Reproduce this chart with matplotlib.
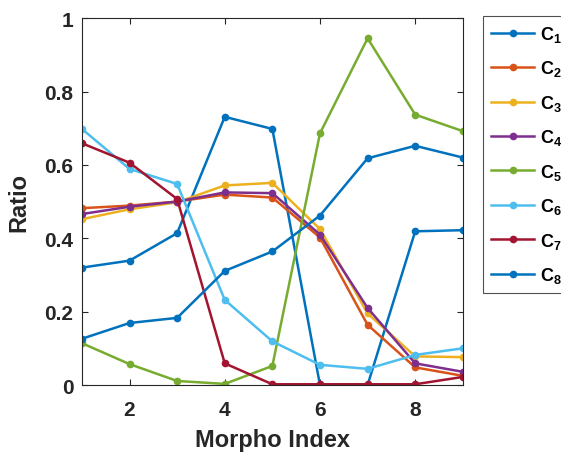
import numpy as np
import matplotlib.pyplot as plt

plt.rcParams['font.family'] = ['Liberation Sans', 'DejaVu Sans']
plt.rcParams['mathtext.fontset'] = 'custom'
plt.rcParams['mathtext.bf'] = 'Liberation Sans:bold'
plt.rcParams['mathtext.rm'] = 'Liberation Sans'

x = np.arange(1, 10)
c1 = [0.32, 0.339, 0.414, 0.731, 0.698, 0.0, 0.0, 0.419, 0.422]
c2 = [0.482, 0.489, 0.50, 0.519, 0.511, 0.402, 0.164, 0.048, 0.025]
c3 = [0.452, 0.479, 0.498, 0.544, 0.551, 0.425, 0.195, 0.078, 0.076]
c4 = [0.466, 0.486, 0.50, 0.525, 0.523, 0.41, 0.21, 0.059, 0.036]
c5 = [0.114, 0.057, 0.011, 0.003, 0.052, 0.686, 0.945, 0.737, 0.692]
c6 = [0.698, 0.589, 0.548, 0.232, 0.119, 0.055, 0.044, 0.082, 0.10]
c7 = [0.659, 0.606, 0.507, 0.059, 0.002, 0.002, 0.002, 0.002, 0.022]
c8 = [0.126, 0.169, 0.183, 0.311, 0.364, 0.462, 0.618, 0.652, 0.62]
series = [c1, c2, c3, c4, c5, c6, c7, c8]
labels = [r'$\mathbf{C_%d}$' % (i + 1) for i in range(8)]
colors = ['#0072BD', '#D95319', '#EDB120', '#7E2F8E', '#77AC30',
          '#4DBEEE', '#A2142F', '#0072BD']

fig = plt.figure(figsize=(5.61, 4.56), dpi=100)
ax = fig.add_axes([0.146, 0.1535, 0.679, 0.8045])

for y, c, lab in zip(series, colors, labels):
    ax.plot(x, y, color=c, lw=1.8, marker='.', ms=9, label=lab)

ax.set_xlim(1, 9)
ax.set_ylim(0, 1)
ax.set_xticks([2, 4, 6, 8])
ax.set_yticks([0, 0.2, 0.4, 0.6, 0.8, 1])
ax.set_yticklabels(['0', '0.2', '0.4', '0.6', '0.8', '1'])
ax.tick_params(direction='in', top=True, right=True, length=4,
               labelsize=15, colors='#262626', width=0.8)
ax.tick_params(axis='x', pad=11)
ax.tick_params(axis='y', pad=6)
for lab in ax.get_xticklabels() + ax.get_yticklabels():
    lab.set_fontweight('bold')
for s in ax.spines.values():
    s.set_color('#262626')
    s.set_linewidth(0.8)
ax.set_xlabel('Morpho Index', fontsize=17, fontweight='bold', color='#262626',
              labelpad=6)
ax.set_ylabel('Ratio', fontsize=17, fontweight='bold', color='#262626',
              labelpad=10)

leg = ax.legend(loc='upper left', bbox_to_anchor=(0.861, 0.963),
                bbox_transform=fig.transFigure, fontsize=13, handlelength=2.4,
                labelspacing=0.8, borderaxespad=0, frameon=True, fancybox=False,
                edgecolor='#262626', handletextpad=0.3, borderpad=0.45)
leg.get_frame().set_linewidth(0.8)

fig.savefig('out.png', dpi=100)
